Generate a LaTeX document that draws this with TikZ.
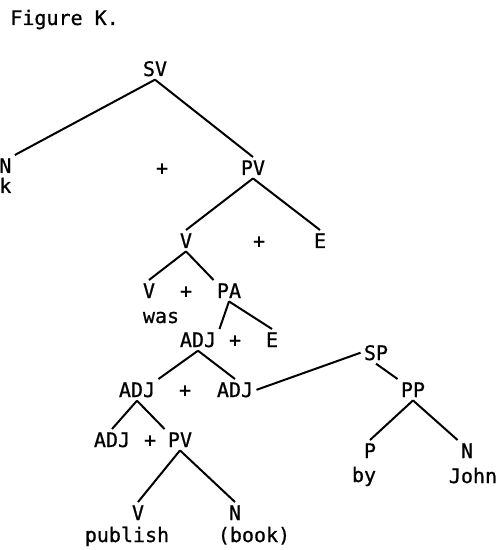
\documentclass[tikz,border=0pt]{standalone}
\usepackage{fontspec}
\setmainfont{DejaVu Sans Mono}[FakeBold=0.8]
\begin{document}
\begin{tikzpicture}[x=0.5pt,y=-0.5pt,
        lbl/.style={anchor=base,inner sep=1.5pt,font=\fontsize{10}{12}\selectfont},
        branch/.style={line width=1pt}]
        \useasboundingbox (0,0) rectangle (498,550);

        \node[lbl, anchor=base west] (title) at (7,25) {Figure K.};
        \node[lbl] (sv) at (155,76) {SV};
        \node[lbl, anchor=base west] (n) at (-4,173) {N};
        \node[lbl, anchor=base west] (k) at (-4,193) {k};
        \node[lbl] (plusa) at (162,175) {+};
        \node[lbl] (pv) at (253,175) {PV};
        \node[lbl] (v) at (186,248) {V};
        \node[lbl] (plusb) at (259,248) {+};
        \node[lbl] (e) at (320,248) {E};
        \node[lbl] (vb) at (149,298) {V};
        \node[lbl] (plusc) at (186,298) {+};
        \node[lbl] (pa) at (229,298) {PA};
        \node[lbl] (was) at (161,323) {was};
        \node[lbl] (adj) at (198,347) {ADJ};
        \node[lbl] (plusd) at (235,347) {+};
        \node[lbl] (eb) at (272,347) {E};
        \node[lbl] (adjl) at (137,397) {ADJ};
        \node[lbl] (pluse) at (185,397) {+};
        \node[lbl] (adjr) at (235,397) {ADJ};
        \node[lbl] (sp) at (376,360) {SP};
        \node[lbl] (pp) at (413,397) {PP};
        \node[lbl] (adjm) at (112,447) {ADJ};
        \node[lbl] (plusf) at (150,447) {+};
        \node[lbl] (pvb) at (180,447) {PV};
        \node[lbl] (vc) at (138,520) {V};
        \node[lbl] (nb) at (235,520) {N};
        \node[lbl] (publish) at (127,542) {publish};
        \node[lbl] (book) at (254,542) {(book)};
        \node[lbl] (p) at (370,458) {P};
        \node[lbl] (nc) at (467,458) {N};
        \node[lbl] (by) at (364,482) {by};
        \node[lbl] (john) at (473,483) {John};

        \draw[branch] (sv.south) -- (n.north east);
        \draw[branch] (sv.south) -- (pv.north);
        \draw[branch] (pv.south) -- (v.north);
        \draw[branch] (pv.south) -- (e.north);
        \draw[branch] (v.south) -- (vb.north);
        \draw[branch] (v.south) -- (pa.north west);
        \draw[branch] (pa.south) -- (adj.north east);
        \draw[branch] (pa.south) -- (eb.north);
        \draw[branch] (adj.south) -- (adjl.north east);
        \draw[branch] (adj.south) -- (adjr.north);
        \draw[branch] (adjr.east) -- (sp.west);
        \draw[branch] (sp.south) -- (pp.north west);
        \draw[branch] (pp.south) -- (p.north);
        \draw[branch] (pp.south) -- (nc.north west);
        \draw[branch] (adjl.south) -- (adjm.north);
        \draw[branch] (adjl.south) -- (pvb.north west);
        \draw[branch] (pvb.south) -- (vc.north);
        \draw[branch] (pvb.south) -- (nb.north);

\end{tikzpicture}
\end{document}
